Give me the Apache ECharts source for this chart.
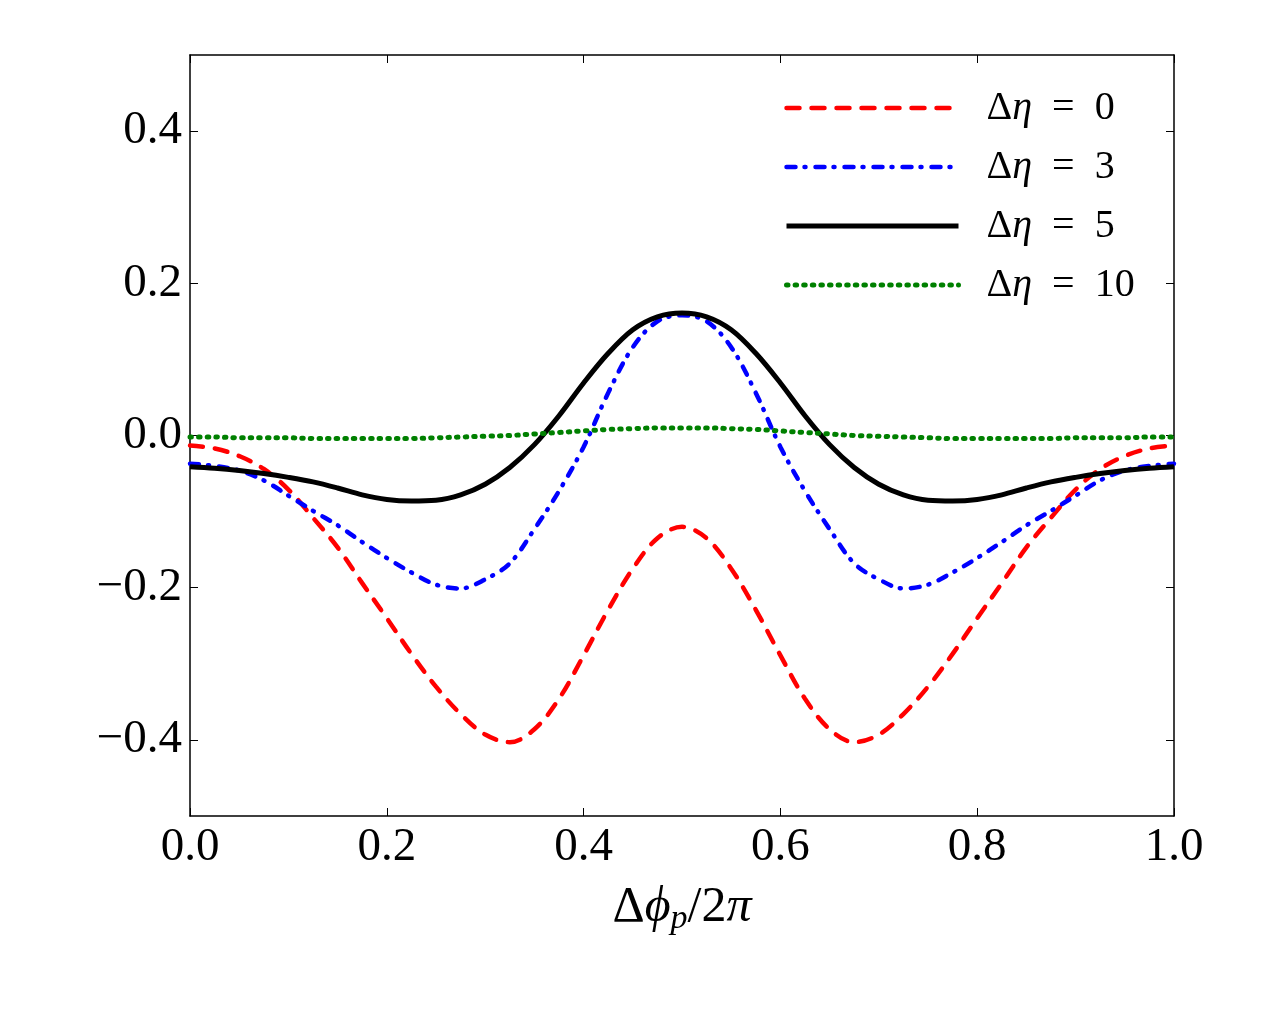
<!DOCTYPE html>
<html>
<head>
<meta charset="utf-8">
<script src="https://cdn.jsdelivr.net/npm/echarts@6/dist/echarts.min.js"></script>
<style>
  html, body { margin: 0; padding: 0; background: #fff; }
  #chart { width: 1268px; height: 1014px; }
</style>
</head>
<body>
<div id="chart"></div>
<script>
// x = Δφp/2π
const xVals = [0, 0.025, 0.05, 0.075, 0.1, 0.125, 0.15, 0.175, 0.2, 0.225, 0.25, 0.275, 0.3, 0.325, 0.35, 0.375, 0.4, 0.425, 0.45, 0.475,
  0.5, 0.525, 0.55, 0.575, 0.6, 0.625, 0.65, 0.675, 0.7, 0.725, 0.75, 0.775, 0.8, 0.825, 0.85, 0.875, 0.9, 0.925, 0.95, 0.975, 1.0];

const eta0 = [-0.013, -0.017, -0.027, -0.044, -0.071, -0.108, -0.147, -0.194, -0.240, -0.287, -0.330, -0.366, -0.393, -0.403, -0.386, -0.346, -0.289, -0.229, -0.175, -0.135,
  -0.120, -0.135, -0.175, -0.229, -0.289, -0.346, -0.386, -0.403, -0.393, -0.366, -0.330, -0.287, -0.240, -0.194, -0.147, -0.108, -0.071, -0.044, -0.027, -0.017, -0.013];

const eta3 = [-0.037, -0.040, -0.046, -0.059, -0.079, -0.099, -0.118, -0.140, -0.161, -0.180, -0.196, -0.201, -0.189, -0.168, -0.123, -0.073, -0.015, 0.056, 0.116, 0.150,
  0.158, 0.150, 0.116, 0.056, -0.015, -0.073, -0.123, -0.168, -0.189, -0.201, -0.196, -0.180, -0.161, -0.140, -0.118, -0.099, -0.079, -0.059, -0.046, -0.040, -0.037];

const eta5 = [-0.041, -0.043, -0.046, -0.050, -0.055, -0.061, -0.069, -0.078, -0.084, -0.086, -0.085, -0.078, -0.064, -0.042, -0.012, 0.026, 0.069, 0.108, 0.139, 0.156,
  0.161, 0.156, 0.139, 0.108, 0.069, 0.026, -0.012, -0.042, -0.064, -0.078, -0.085, -0.086, -0.084, -0.078, -0.069, -0.061, -0.055, -0.050, -0.046, -0.043, -0.041];

const eta10 = [-0.002, -0.002, -0.003, -0.003, -0.003, -0.004, -0.004, -0.004, -0.004, -0.004, -0.003, -0.002, -0.001, 0.000, 0.002, 0.004, 0.006, 0.008, 0.009, 0.010,
  0.010, 0.010, 0.009, 0.008, 0.006, 0.004, 0.002, 0.000, -0.001, -0.002, -0.003, -0.004, -0.004, -0.004, -0.004, -0.004, -0.003, -0.003, -0.003, -0.002, -0.002];

const yTicks = [-0.4, -0.2, 0, 0.2, 0.4];
const seriesNames = ['Δη = 0', 'Δη = 3', 'Δη = 5', 'Δη = 10'];
const colors = ['#ff0000', '#0000ff', '#000000', '#008000'];

const FONT = '"Liberation Serif", "DejaVu Serif", serif';

const lineStyles = [
  { color: colors[0], width: 4.5, type: [13, 12], cap: 'round' },
  { color: colors[1], width: 4.5, type: [9, 9, 1, 10], cap: 'round' },
  { color: colors[2], width: 5 },
  { color: colors[3], width: 5, type: [1.5, 7.1], cap: 'round' }
];

function pairs(ys) {
  return ys.map((y, i) => [xVals[i], y]);
}

function minusFmt(v) {
  return (v < 0 ? '\u2212' : '') + Math.abs(v).toFixed(1);
}

const chart = echarts.init(document.getElementById('chart'));

const axisLine = { show: true, onZero: false, lineStyle: { color: '#000', width: 1.5 } };
const xTicks = { show: true, inside: true, length: 8, lineStyle: { color: '#000', width: 1 } };
const yTickStyle = { show: true, inside: true, length: 8, customValues: yTicks, lineStyle: { color: '#000', width: 1 } };

chart.setOption({
  backgroundColor: '#fff',
  animation: false,
  grid: { left: 190, right: 94, top: 55, bottom: 198, containLabel: false },
  legend: {
    orient: 'vertical',
    left: 784,
    top: 85,
    padding: 0,
    itemWidth: 172,
    itemHeight: 14,
    itemGap: 13,
    data: seriesNames.map((n, i) => ({
      name: n,
      itemStyle: { opacity: 0 },
      lineStyle: lineStyles[i]
    })),
    formatter: function (name) {
      return '{u|Δ}{i|η}{u|\u2002=\u2002' + name.split('= ')[1] + '}';
    },
    textStyle: {
      color: '#000',
      fontFamily: FONT,
      fontSize: 40,
      lineHeight: 46,
      padding: [0, 0, 0, 23],
      rich: {
        u: { fontFamily: FONT, fontSize: 40, color: '#000' },
        i: { fontFamily: FONT, fontSize: 40, fontStyle: 'italic', color: '#000' }
      }
    }
  },
  xAxis: [{
    type: 'value',
    min: 0, max: 1, interval: 0.2,
    position: 'bottom',
    axisLine: axisLine,
    axisTick: xTicks,
    splitLine: { show: false },
    axisLabel: {
      margin: 8,
      color: '#000',
      fontFamily: FONT,
      fontSize: 47,
      formatter: v => v.toFixed(1)
    },
    name: '{u|Δ}{i|ϕ}{s|p}{u|/2}{i|π}',
    nameLocation: 'middle',
    nameGap: 64,
    nameTextStyle: {
      rich: {
        u: { fontFamily: FONT, fontSize: 50, color: '#000' },
        i: { fontFamily: FONT, fontSize: 50, fontStyle: 'italic', color: '#000' },
        s: { fontFamily: FONT, fontSize: 34, fontStyle: 'italic', color: '#000', padding: [22, 0, 0, 0] }
      }
    }
  }, {
    type: 'value',
    min: 0, max: 1, interval: 0.2,
    position: 'top',
    axisLine: axisLine,
    axisTick: xTicks,
    axisLabel: { show: false },
    splitLine: { show: false }
  }],
  yAxis: [{
    type: 'value',
    min: -0.5, max: 0.5, interval: 0.1,
    position: 'left',
    axisLine: axisLine,
    axisTick: yTickStyle,
    splitLine: { show: false },
    axisLabel: {
      margin: 8,
      customValues: yTicks,
      color: '#000',
      fontFamily: FONT,
      fontSize: 47,
      formatter: v => minusFmt(v)
    }
  }, {
    type: 'value',
    min: -0.5, max: 0.5, interval: 0.1,
    position: 'right',
    axisLine: axisLine,
    axisTick: yTickStyle,
    axisLabel: { show: false },
    splitLine: { show: false }
  }],
  series: [0, 1, 2, 3].map(i => ({
    name: seriesNames[i],
    type: 'line',
    symbol: 'none',
    smooth: 0.35,
    data: pairs([eta0, eta3, eta5, eta10][i]),
    lineStyle: lineStyles[i],
    itemStyle: { color: colors[i] },
    z: 2 + i
  }))
});
</script>
</body>
</html>
